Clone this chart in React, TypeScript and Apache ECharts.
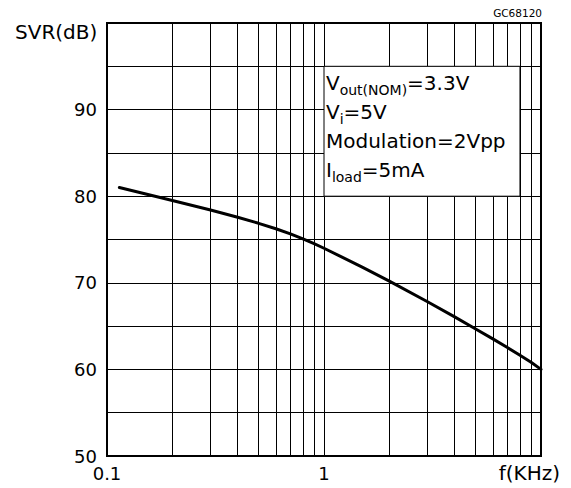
import React, { useEffect, useRef } from 'react';
import * as echarts from 'echarts';

// ---- data ----
const freqKHz = [0.114, 0.2, 0.3, 0.4, 0.5, 0.6, 0.7, 0.8, 0.9, 1, 1.5, 2, 3, 4, 5, 6, 7, 8, 9, 10];
const svrDb = [81.0, 79.51, 78.4, 77.57, 76.87, 76.24, 75.64, 75.06, 74.51, 73.99, 71.82, 70.2, 67.81, 66.06, 64.67, 63.52, 62.52, 61.63, 60.83, 60.0];
const minorFreqs = [0.2, 0.3, 0.4, 0.5, 0.6, 0.7, 0.8, 0.9, 2, 3, 4, 5, 6, 7, 8, 9];
const yLabelValues = [50, 60, 70, 80, 90];
const xMin = 0.1;
const xMax = 10;
const yMin = 50;
const yMax = 100;
const yStep = 5;
const xAxisTitle = 'f(KHz)';
const yAxisTitle = 'SVR(dB)';
const chartCode = 'GC68120';
// note box corners in data units: [freq, dB]
const noteBoxTopLeft = [1, 95];
const noteBoxBottomRight = [8, 80];
const noteLines = [
  '{m|V}{s|out(NOM)}{m|=3.3V}',
  '{m|V}{s|i}{m|=5V}',
  '{m|Modulation=2Vpp}',
  '{m|I}{s|load}{m|=5mA}',
];

const FONT = 'DejaVu Sans';

export default function App() {
  const ref = useRef<HTMLDivElement>(null);

  useEffect(() => {
    if (!ref.current) return;
    const chart = echarts.init(ref.current, null, { renderer: 'svg' });
    chart.setOption({
      animation: false,
      backgroundColor: '#fff',
      grid: {
        left: 107,
        right: 30,
        top: 23,
        bottom: 32,
        show: true,
        borderColor: '#000',
        borderWidth: 2,
        backgroundColor: 'transparent',
      },
      xAxis: {
        type: 'log',
        logBase: 10,
        min: xMin,
        max: xMax,
        axisLine: { show: false },
        axisTick: { show: false },
        minorTick: { show: false },
        splitLine: { show: true, lineStyle: { color: '#000', width: 1 } },
        axisLabel: {
          color: '#000',
          fontFamily: FONT,
          fontSize: 18,
          margin: 8,
          formatter: (v: number) => (v >= xMax ? '' : String(v)),
        },
      },
      yAxis: {
        type: 'value',
        min: yMin,
        max: yMax,
        interval: yStep,
        axisLine: { show: false },
        axisTick: { show: false },
        splitLine: { show: true, lineStyle: { color: '#000', width: 1 } },
        axisLabel: {
          color: '#000',
          fontFamily: FONT,
          fontSize: 18,
          margin: 10,
          formatter: (v: number) => (yLabelValues.includes(v) ? String(v) : ''),
        },
      },
      series: [
        {
          type: 'line',
          data: freqKHz.map((f, i) => [f, svrDb[i]]),
          smooth: false,
          showSymbol: false,
          symbol: 'none',
          lineStyle: { color: '#000', width: 3, join: 'round', cap: 'round' },
          z: 5,
          markLine: {
            silent: true,
            symbol: 'none',
            label: { show: false },
            lineStyle: { color: '#000', width: 1, type: 'solid' },
            data: minorFreqs.map((f) => ({ xAxis: f })),
          },
        },
      ],
    });

    const p0 = chart.convertToPixel({ gridIndex: 0 }, noteBoxTopLeft) as number[];
    const p1 = chart.convertToPixel({ gridIndex: 0 }, noteBoxBottomRight) as number[];

    chart.setOption({
      graphic: [
        {
          type: 'rect',
          z: 100,
          shape: { x: p0[0], y: p0[1], width: p1[0] - p0[0], height: p1[1] - p0[1] },
          style: { fill: '#fff', stroke: '#000', lineWidth: 1 },
        },
        {
          type: 'text',
          z: 101,
          x: p0[0] + 2,
          y: p0[1] + 2,
          style: {
            text: noteLines.join('\n'),
            verticalAlign: 'top',
            align: 'left',
            fill: '#000',
            rich: {
              m: { fontSize: 20, fontFamily: FONT, lineHeight: 29, verticalAlign: 'middle', fill: '#000' },
              s: { fontSize: 14, fontFamily: FONT, lineHeight: 17, verticalAlign: 'bottom', fill: '#000' },
            },
          },
        },
        {
          type: 'text',
          z: 101,
          left: 15,
          top: 22,
          style: { text: yAxisTitle, fontSize: 20, fontFamily: FONT, fill: '#000' },
        },
        {
          type: 'text',
          z: 101,
          right: 11,
          top: 463,
          style: { text: xAxisTitle, fontSize: 20, fontFamily: FONT, fill: '#000' },
        },
        {
          type: 'text',
          z: 101,
          right: 29,
          top: 7,
          style: { text: chartCode, fontSize: 10.5, fontFamily: FONT, fill: '#000' },
        },
      ],
    });

    return () => chart.dispose();
  }, []);

  return (
    <div
      ref={ref}
      style={{ position: 'fixed', left: 0, top: 0, width: 571, height: 488, background: '#fff' }}
    />
  );
}
